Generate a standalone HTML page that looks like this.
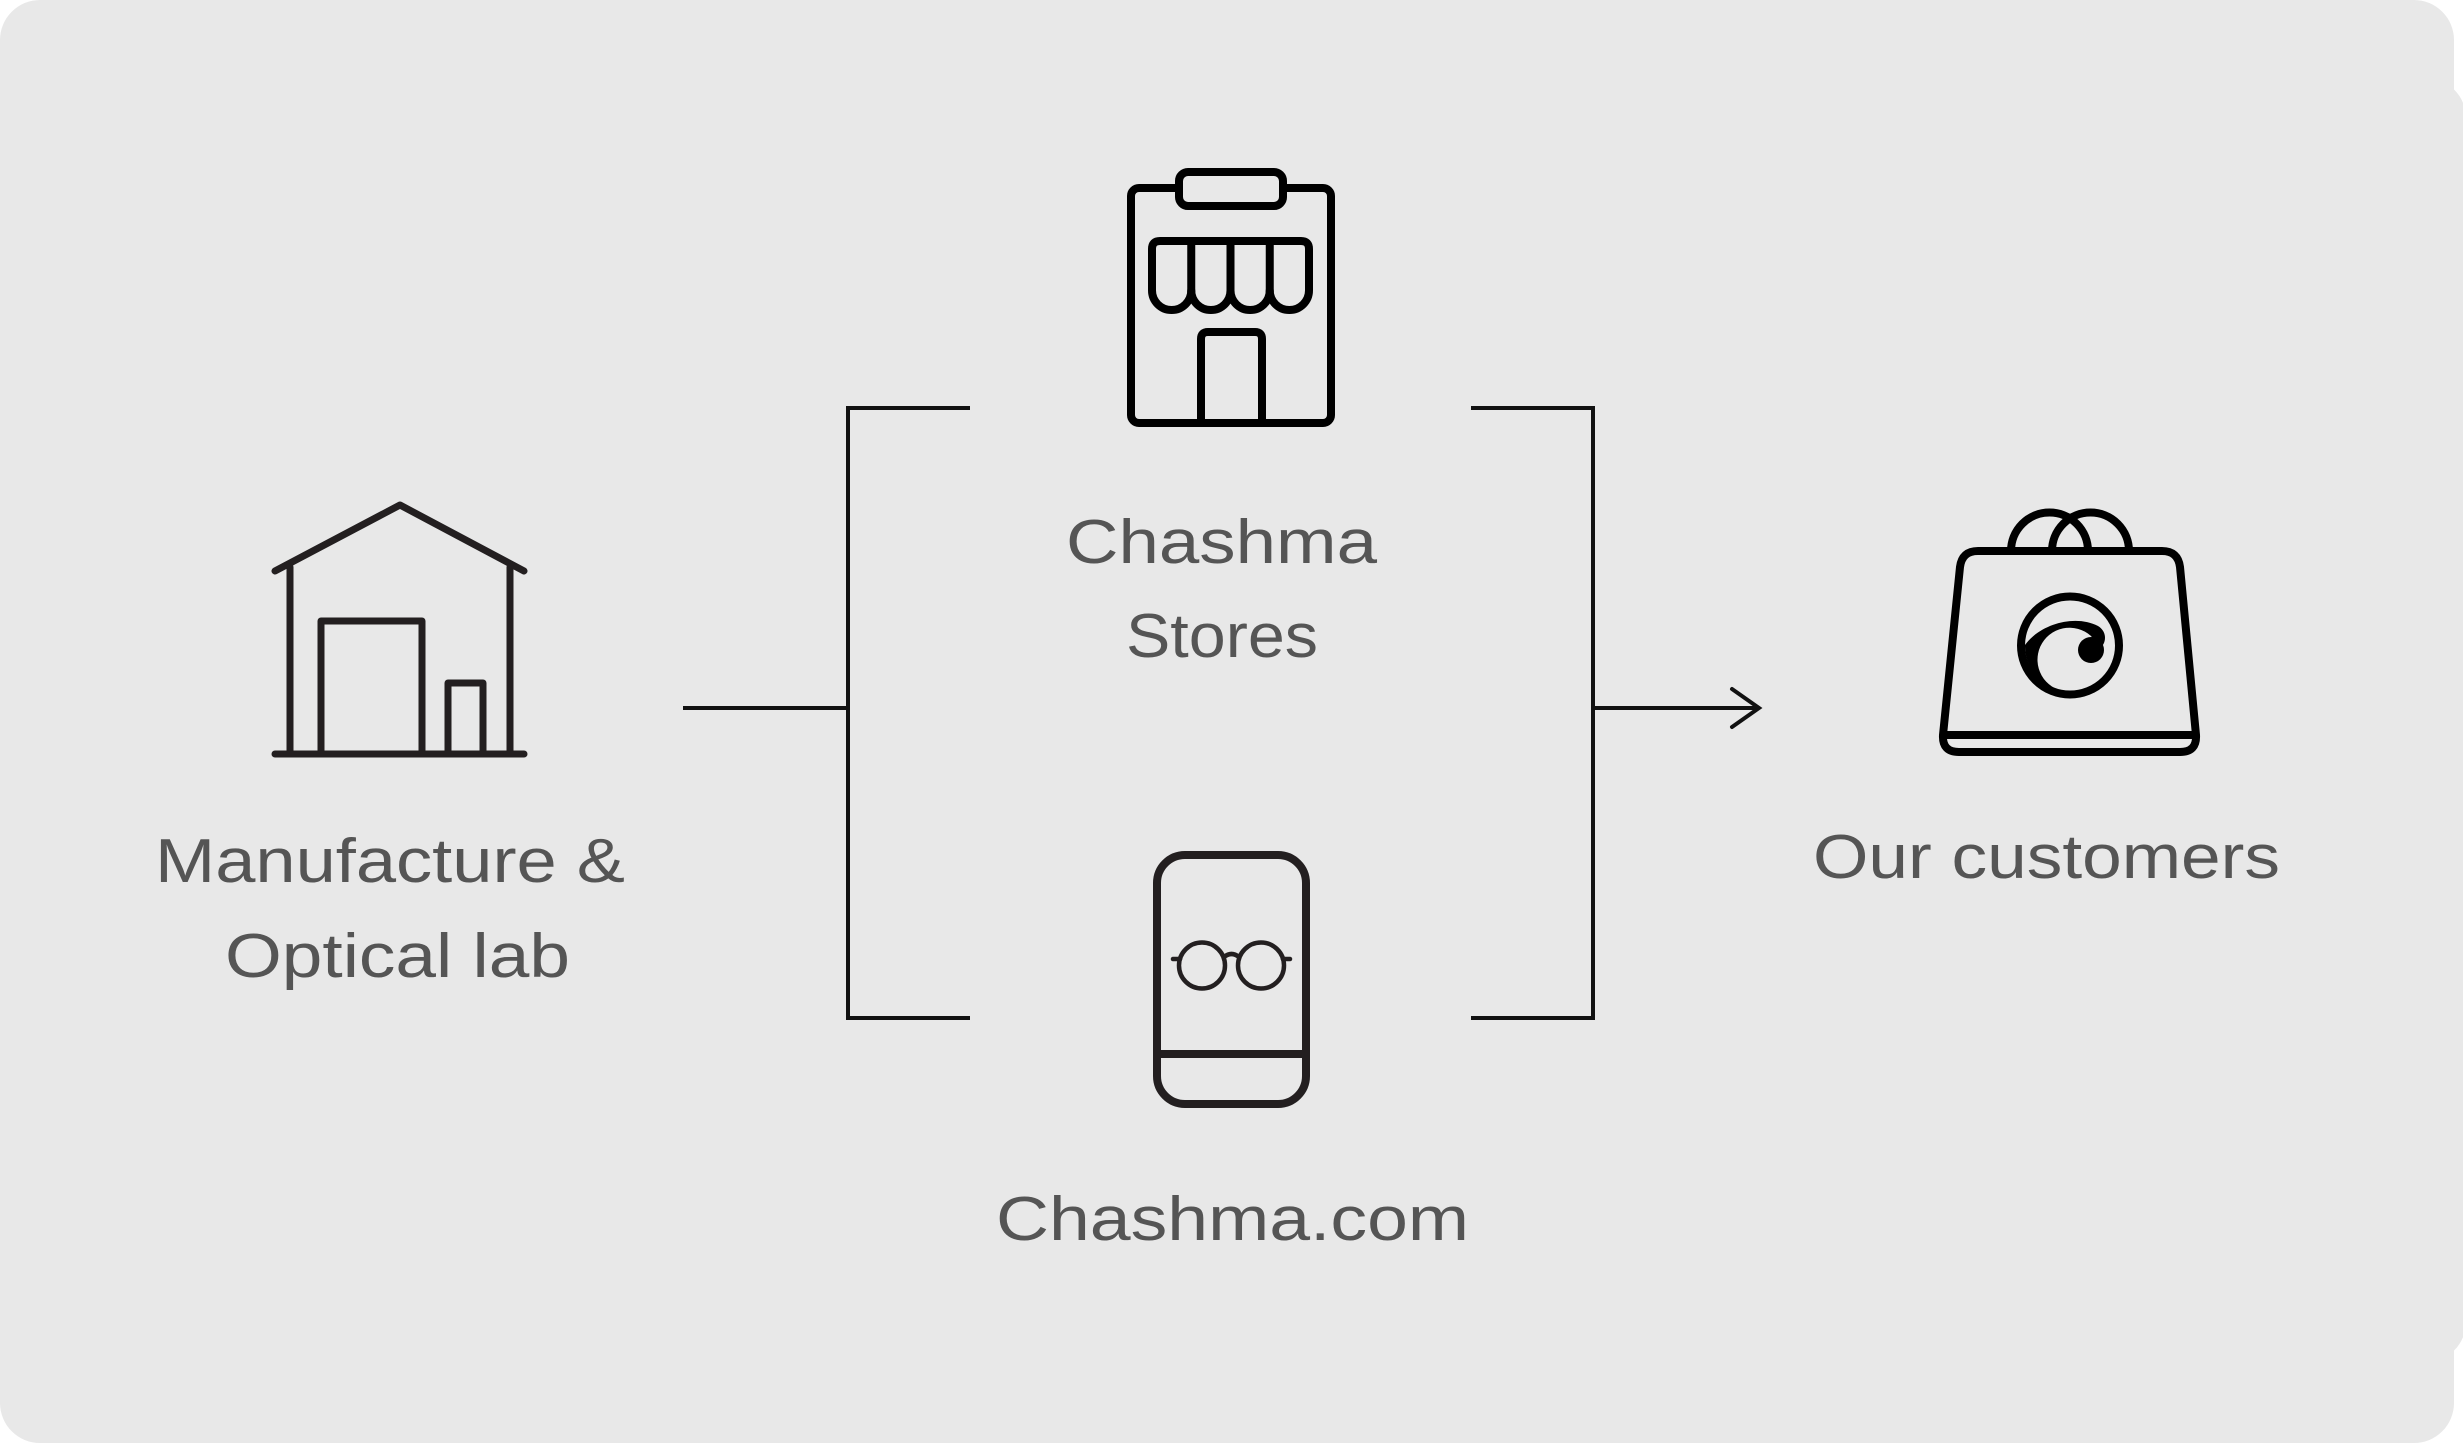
<!DOCTYPE html>
<html>
<head>
<meta charset="utf-8">
<style>
html,body{margin:0;padding:0;background:#ffffff;}
svg{display:block;}
text{font-family:"Liberation Sans",Arial,sans-serif;fill:#555555;font-size:62px;}
</style>
</head>
<body>
<svg width="2463" height="1444" viewBox="0 0 2463 1444" xmlns="http://www.w3.org/2000/svg">
  <!-- background cards -->
  <rect x="2000" y="78" width="466" height="1284" rx="40" ry="40" fill="#e8e8e8"/>
  <rect x="0" y="0" width="2454" height="1443" rx="40" ry="40" fill="#e8e8e8"/>

  <!-- Warehouse icon -->
  <g fill="none" stroke="#231f20" stroke-width="7" stroke-linecap="round" stroke-linejoin="round">
    <polyline points="275,571 400,505 524,571"/>
    <line x1="290" y1="567" x2="290" y2="754"/>
    <line x1="510" y1="567" x2="510" y2="754"/>
    <line x1="275" y1="754" x2="524" y2="754"/>
    <polyline points="321,754 321,621 422,621 422,754" stroke-linecap="butt"/>
    <polyline points="448,754 448,683 483,683 483,754" stroke-linecap="butt"/>
  </g>

  <!-- Store icon -->
  <g fill="none" stroke="#000" stroke-width="8" stroke-linejoin="round">
    <rect x="1131" y="188" width="200" height="235" rx="8"/>
    <rect x="1179" y="172" width="104" height="34" rx="9" fill="#e8e8e8"/>
    <path d="M1152 290.4 L1152 249 Q1152 241 1160 241 L1301 241 Q1309 241 1309 249 L1309 290.4 A19.6 19.6 0 0 1 1269.75 290.4 A19.6 19.6 0 0 1 1230.5 290.4 A19.6 19.6 0 0 1 1191.25 290.4 A19.6 19.6 0 0 1 1152 290.4 Z"/>
    <line x1="1191.25" y1="241" x2="1191.25" y2="292"/>
    <line x1="1230.5" y1="241" x2="1230.5" y2="292"/>
    <line x1="1269.75" y1="241" x2="1269.75" y2="292"/>
    <path d="M1201 423 L1201 339 Q1201 332 1208 332 L1255 332 Q1262 332 1262 339 L1262 423"/>
  </g>

  <!-- Phone icon -->
  <g fill="none" stroke="#231f20" stroke-width="8">
    <rect x="1157" y="855" width="149" height="249" rx="28"/>
    <line x1="1157" y1="1054" x2="1306" y2="1054"/>
  </g>
  <g fill="none" stroke="#231f20" stroke-width="4.5" stroke-linecap="round">
    <circle cx="1202" cy="965.5" r="23"/>
    <circle cx="1261" cy="965.5" r="23"/>
    <path d="M1224 957 Q1231.5 951 1239 957"/>
    <line x1="1173" y1="959" x2="1180" y2="959"/>
    <line x1="1283" y1="959" x2="1290" y2="959"/>
  </g>

  <!-- Bag icon -->
  <g fill="none" stroke="#000" stroke-width="8" stroke-linejoin="round">
    <path d="M2011 551 A38.5 38.5 0 0 1 2088 551"/>
    <path d="M2052 551 A38.5 38.5 0 0 1 2129 551"/>
    <path d="M1943 735 L1960 567 Q1962 551 1978 551 L2162 551 Q2178 551 2180 567 L2196 735 Z"/>
    <path d="M1943 735 Q1942 752 1959 752 L2180 752 Q2197 752 2196 735"/>
    <circle cx="2070" cy="645.5" r="49"/>
  </g>
  <g fill="#000">
    <path d="M2025 645 C2040 624 2075 614 2098 626 C2108 632 2106 644 2100 648 L2091 636 A32 32 0 1 0 2066 691.5 A45.5 45.5 0 0 1 2025 645 Z"/>
    <circle cx="2091" cy="650" r="13"/>
  </g>

  <!-- Connectors -->
  <g fill="none" stroke="#111" stroke-width="4">
    <line x1="683" y1="708" x2="848" y2="708"/>
    <line x1="848" y1="406" x2="848" y2="1020"/>
    <line x1="846" y1="408" x2="970" y2="408"/>
    <line x1="846" y1="1018" x2="970" y2="1018"/>
    <line x1="1471" y1="408" x2="1595" y2="408"/>
    <line x1="1471" y1="1018" x2="1595" y2="1018"/>
    <line x1="1593" y1="406" x2="1593" y2="1020"/>
    <line x1="1593" y1="708" x2="1758" y2="708"/>
    <polyline points="1732,689 1759,708 1732,727" stroke-linecap="round" stroke-linejoin="miter"/>
  </g>

  <!-- Labels -->
  <text x="155" y="882" textLength="470" lengthAdjust="spacingAndGlyphs">Manufacture &amp;</text>
  <text x="225" y="977" textLength="345" lengthAdjust="spacingAndGlyphs">Optical lab</text>
  <text x="1066" y="563" textLength="311" lengthAdjust="spacingAndGlyphs">Chashma</text>
  <text x="1126" y="657" textLength="192" lengthAdjust="spacingAndGlyphs">Stores</text>
  <text x="996" y="1240" textLength="473" lengthAdjust="spacingAndGlyphs">Chashma.com</text>
  <text x="1813" y="878" textLength="467" lengthAdjust="spacingAndGlyphs">Our customers</text>
</svg>
</body>
</html>
